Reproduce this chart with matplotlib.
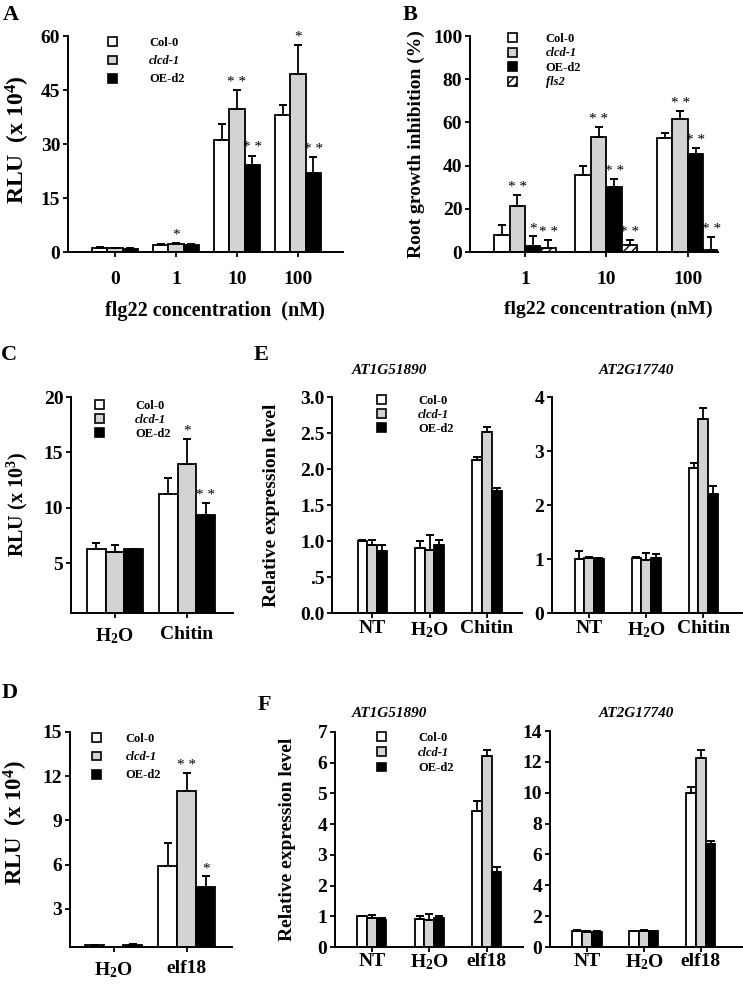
import numpy as np
import matplotlib
matplotlib.use("Agg")
import matplotlib.pyplot as plt
from matplotlib.patches import Patch

plt.rcParams['font.family'] = ['Liberation Serif', 'DejaVu Serif']
plt.rcParams['font.weight'] = 'bold'
plt.rcParams['mathtext.fontset'] = 'custom'
plt.rcParams['mathtext.rm'] = 'Liberation Serif:bold'
plt.rcParams['mathtext.it'] = 'Liberation Serif:bold:italic'
plt.rcParams['mathtext.bf'] = 'Liberation Serif:bold'

W, H = 743, 986

# ---- data ----
genotypes = ['Col-0', 'clcd-1', 'OE-d2', 'fls2']

# A: ROS burst, flg22
A_conc = ['0', '1', '10', '100']
A_col0 = [1.0, 1.9, 31.0, 38.0]
A_col0_err = [0.3, 0.2, 4.5, 2.7]
A_clcd = [1.0, 2.3, 39.7, 49.5]
A_clcd_err = [0.2, 0.3, 5.2, 8.0]
A_oe = [0.9, 2.0, 24.3, 22.0]
A_oe_err = [0.3, 0.3, 2.5, 4.3]
A_stars = [['', '', '', ''], ['', '*', '**', '*'], ['', '', '**', '**']]

# B: root growth inhibition
B_conc = ['1', '10', '100']
B_col0 = [8.0, 35.7, 53.0]
B_col0_err = [4.5, 4.3, 2.0]
B_clcd = [21.4, 53.4, 61.5]
B_clcd_err = [5.1, 4.3, 3.7]
B_oe = [2.9, 30.3, 45.4]
B_oe_err = [4.3, 3.5, 2.9]
B_fls2 = [1.7, 3.1, 1.1]
B_fls2_err = [3.7, 2.3, 5.7]
B_stars = [['', '', ''], ['**', '**', '**'], ['*', '**', '**'], ['**', '**', '**']]

# C: ROS burst, chitin
C_treat = ['H$_2$O', 'Chitin']
C_col0 = [6.28, 11.28]
C_col0_err = [0.5, 1.4]
C_clcd = [5.98, 13.93]
C_clcd_err = [0.7, 2.3]
C_oe = [6.28, 9.35]
C_oe_err = [0.0, 1.05]
C_stars = [['', ''], ['', '*'], ['', '**']]

# D: ROS burst, elf18
D_treat = ['H$_2$O', 'elf18']
D_col0 = [0.52, 5.93]
D_col0_err = [0.03, 1.5]
D_clcd = [0.4, 11.0]
D_clcd_err = [0.0, 1.2]
D_oe = [0.56, 4.46]
D_oe_err = [0.03, 0.75]
D_stars = [['', ''], ['', '**'], ['', '*']]

# E: qPCR, chitin
E_treat = ['NT', 'H$_2$O', 'Chitin']
E1_col0 = [1.0, 0.90, 2.12]
E1_col0_err = [0.01, 0.10, 0.05]
E1_clcd = [0.94, 0.88, 2.51]
E1_clcd_err = [0.08, 0.21, 0.07]
E1_oe = [0.86, 0.94, 1.69]
E1_oe_err = [0.09, 0.08, 0.04]
E2_col0 = [1.0, 1.02, 2.69]
E2_col0_err = [0.14, 0.01, 0.08]
E2_clcd = [1.02, 0.99, 3.59]
E2_clcd_err = [0.02, 0.13, 0.21]
E2_oe = [1.0, 1.01, 2.21]
E2_oe_err = [0.02, 0.08, 0.14]

# F: qPCR, elf18
F_treat = ['NT', 'H$_2$O', 'elf18']
F1_col0 = [1.0, 0.90, 4.42]
F1_col0_err = [0.01, 0.10, 0.32]
F1_clcd = [0.94, 0.87, 6.22]
F1_clcd_err = [0.09, 0.22, 0.21]
F1_oe = [0.87, 0.94, 2.44]
F1_oe_err = [0.07, 0.08, 0.16]
F2_col0 = [1.02, 1.02, 10.0]
F2_col0_err = [0.08, 0.0, 0.37]
F2_clcd = [1.0, 1.06, 12.23]
F2_clcd_err = [0.02, 0.04, 0.57]
F2_oe = [1.0, 1.03, 6.67]
F2_oe_err = [0.02, 0.02, 0.23]

colors = ['white', '#d3d3d3', 'black', 'white']
hatches = [None, None, None, '////']

fig = plt.figure(figsize=(W / 100, H / 100), dpi=100)


def axes_px(l, t, r, b):
    return fig.add_axes([l / W, 1 - b / H, (r - l) / W, (b - t) / H])


def style(ax, xlim, ylim, labels, tsize=14, xpad=4):
    ax.set_xlim(*xlim)
    ax.set_ylim(*ylim)
    for s in ['top', 'right']:
        ax.spines[s].set_visible(False)
    for s in ['left', 'bottom']:
        ax.spines[s].set_linewidth(1.4)
    ax.set_xticks(np.arange(len(labels)))
    ax.set_xticklabels(labels, fontsize=tsize, fontweight='bold')
    ax.tick_params(axis='both', direction='out', length=3.5, width=1.3)
    ax.tick_params(axis='x', pad=xpad)
    ax.tick_params(axis='y', labelsize=tsize, pad=2)


def bars(ax, series, errs, width, stars=None, star_size=11):
    n = len(series)
    x = np.arange(len(series[0]))
    ymax = ax.get_ylim()[1]
    for i, (vals, err) in enumerate(zip(series, errs)):
        xs = x + (i - (n - 1) / 2) * width
        ax.bar(xs, vals, width, color=colors[i], hatch=hatches[i], edgecolor='black',
               linewidth=1.3, zorder=2)
        ax.errorbar(xs, vals, yerr=[np.zeros(len(err)), err], fmt='none', ecolor='black',
                    elinewidth=1.3, capsize=3, capthick=1.4, zorder=3)
        if stars is not None:
            for xx, v, e, s in zip(xs, vals, err, stars[i]):
                if s:
                    ax.text(xx, v + e + ymax * 0.005, ' '.join(s), ha='center', va='bottom',
                            fontsize=star_size, fontweight='normal')


def legend(ax, n, x_px, y_px, spacing, pad):
    handles = [Patch(facecolor=colors[i], edgecolor='black', hatch=hatches[i], linewidth=1.2)
               for i in range(n)]
    leg = ax.legend(handles, genotypes[:n], loc='upper left',
                    bbox_to_anchor=(x_px / W, 1 - y_px / H),
                    bbox_transform=fig.transFigure, frameon=False, fontsize=9,
                    handlelength=0.7, handleheight=0.7, handletextpad=pad,
                    labelspacing=spacing, borderpad=0, borderaxespad=0)
    for t in leg.get_texts():
        t.set_fontweight('bold')
        if t.get_text() in ('clcd-1', 'fls2'):
            t.set_fontstyle('italic')


def ylabel(ax, text, size, xfrac, yfrac=0.5):
    ax.set_ylabel(text, fontsize=size, fontweight='bold')
    ax.yaxis.set_label_coords(xfrac, yfrac)


def gene_title(ax, text, x, y):
    ax.text(x, y, text, transform=ax.transAxes, ha='center', va='center',
            fontsize=11, fontweight='bold', fontstyle='italic')


def letter(x, y, s):
    fig.text(x / W, 1 - y / H, s, fontsize=16, fontweight='bold', ha='center', va='center')


# ---- A ----
axA = axes_px(68, 36, 343, 252)
style(axA, (-0.77, 3.74), (0, 60), A_conc, xpad=10)
axA.set_yticks([0, 15, 30, 45, 60])
bars(axA, [A_col0, A_clcd, A_oe], [A_col0_err, A_clcd_err, A_oe_err], 0.25, A_stars)
ylabel(axA, 'RLU  (x 10$^4$)', 17, -0.13, 0.52)
axA.set_xlabel('flg22 concentration  (nM)', fontsize=14.5, fontweight='bold')
axA.xaxis.set_label_coords(0.535, -0.225)
legend(axA, 3, 108, 37, 0.5, 2.6)
letter(11, 15, 'A')

# ---- B ----
axB = axes_px(470, 36, 718, 252)
style(axB, (-0.675, 2.37), (0, 100), B_conc, xpad=10)
axB.set_yticks([0, 20, 40, 60, 80, 100])
bars(axB, [B_col0, B_clcd, B_oe, B_fls2], [B_col0_err, B_clcd_err, B_oe_err, B_fls2_err],
     0.19, B_stars)
ylabel(axB, 'Root growth inhibition (%)', 14, -0.18)
axB.set_xlabel('flg22 concentration (nM)', fontsize=14, fontweight='bold')
axB.xaxis.set_label_coords(0.556, -0.225)
legend(axB, 4, 508, 33, 0.2, 2.3)
letter(410, 15, 'B')

# ---- C ----
axC = axes_px(71, 397, 233, 613)
style(axC, (-0.61, 1.64), (0.5, 20), C_treat, xpad=6)
axC.set_yticks([5, 10, 15, 20])
bars(axC, [C_col0, C_clcd, C_oe], [C_col0_err, C_clcd_err, C_oe_err], 0.26, C_stars)
ylabel(axC, 'RLU (x 10$^3$)', 14.5, -0.25)
legend(axC, 3, 95, 400, 0.15, 2.5)
letter(9, 355, 'C')

# ---- E ----
axE1 = axes_px(332, 397, 522, 613)
style(axE1, (-0.70, 2.61), (0, 3), E_treat, xpad=1.5)
axE1.set_yticks([0, 0.5, 1, 1.5, 2, 2.5, 3])
axE1.set_yticklabels(['0.0', '.5', '1.0', '1.5', '2.0', '2.5', '3.0'])
bars(axE1, [E1_col0, E1_clcd, E1_oe], [E1_col0_err, E1_clcd_err, E1_oe_err], 0.17)
ylabel(axE1, 'Relative expression level', 14, -0.275)
gene_title(axE1, 'AT1G51890', 0.305, 1.125)
legend(axE1, 3, 377, 395, 0.15, 2.6)
letter(261, 355, 'E')

axE2 = axes_px(552, 397, 742, 613)
style(axE2, (-0.65, 2.68), (0, 4), E_treat, xpad=1.5)
axE2.set_yticks([0, 1, 2, 3, 4])
bars(axE2, [E2_col0, E2_clcd, E2_oe], [E2_col0_err, E2_clcd_err, E2_oe_err], 0.17)
gene_title(axE2, 'AT2G17740', 0.447, 1.125)

# ---- D ----
axD = axes_px(70, 732, 232, 947)
style(axD, (-0.60, 1.62), (0.4, 15), D_treat, xpad=6)
axD.set_yticks([3, 6, 9, 12, 15])
bars(axD, [D_col0, D_clcd, D_oe], [D_col0_err, D_clcd_err, D_oe_err], 0.26, D_stars)
ylabel(axD, 'RLU  (x 10$^4$)', 16.5, -0.245, 0.58)
legend(axD, 3, 92, 733, 0.5, 2.0)
letter(10, 693, 'D')

# ---- F ----
axF1 = axes_px(335, 732, 523, 947)
style(axF1, (-0.64, 2.63), (0, 7), F_treat, xpad=0.5)
axF1.set_yticks(range(0, 8))
bars(axF1, [F1_col0, F1_clcd, F1_oe], [F1_col0_err, F1_clcd_err, F1_oe_err], 0.17)
ylabel(axF1, 'Relative expression level', 14, -0.21)
gene_title(axF1, 'AT1G51890', 0.29, 1.084)
legend(axF1, 3, 377, 732, 0.25, 2.6)
letter(264, 705, 'F')

axF2 = axes_px(550, 731, 743, 947)
style(axF2, (-0.65, 2.74), (0, 14), F_treat, xpad=0.5)
axF2.set_yticks(range(0, 15, 2))
bars(axF2, [F2_col0, F2_clcd, F2_oe], [F2_col0_err, F2_clcd_err, F2_oe_err], 0.17)
gene_title(axF2, 'AT2G17740', 0.45, 1.08)

fig.savefig('out.png', dpi=100)
